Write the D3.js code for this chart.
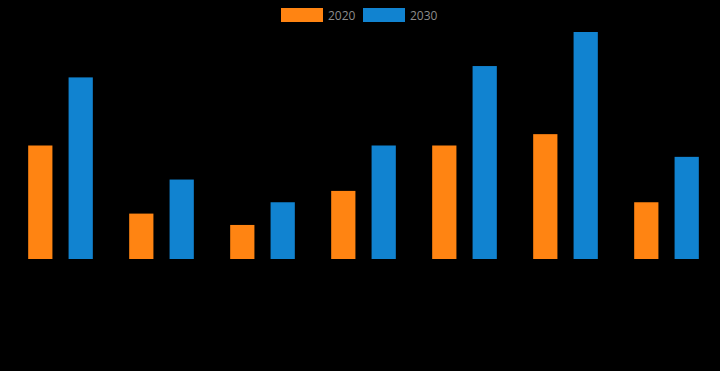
<!doctype html>
<html>
<head>
<script src="https://d3js.org/d3.v7.min.js"></script>
<style>
  body { margin: 0; background: #000; }
  svg { display: block; }
</style>
</head>
<body>
<script>
  // data
  var categories = ["1", "2", "3", "4", "5", "6", "7"];
  var seriesNames = ["2020", "2030"];
  var values2020 = [10, 4, 3, 6, 10, 11, 5];
  var values2030 = [16, 7, 5, 10, 17, 20, 9];
  var colors = ["#ff8412", "#1183d0"];

  var W = 720, H = 371;
  var svg = d3.select("body").append("svg").attr("width", W).attr("height", H);
  svg.append("rect").attr("width", W).attr("height", H).attr("fill", "#000");

  var x0 = d3.scaleBand().domain(categories).range([10, 717]).padding(0);
  var x1 = d3.scaleBand().domain(seriesNames).range([0, x0.bandwidth()])
      .paddingInner(0.4).paddingOuter(0.45);
  var y = d3.scaleLinear().domain([0, 20]).range([259, 32]);

  var rows = categories.map(function (c, i) {
    return { cat: c, vals: [values2020[i], values2030[i]] };
  });

  var g = svg.selectAll(".grp").data(rows).enter().append("g")
      .attr("transform", function (d) { return "translate(" + x0(d.cat) + ",0)"; });

  g.selectAll("rect").data(function (d) {
    return d.vals.map(function (v, j) { return { key: seriesNames[j], v: v, j: j }; });
  }).enter().append("rect")
    .attr("x", function (d) { return x1(d.key); })
    .attr("width", x1.bandwidth())
    .attr("y", function (d) { return y(d.v); })
    .attr("height", function (d) { return y(0) - y(d.v); })
    .attr("fill", function (d) { return colors[d.j]; });

  // legend
  var legend = svg.append("g").attr("font-family", "'Open Sans', sans-serif").attr("font-size", 12);
  var lx = [281, 363];
  seriesNames.forEach(function (name, j) {
    legend.append("rect").attr("x", lx[j]).attr("y", 8).attr("width", 42).attr("height", 14)
      .attr("fill", colors[j]);
    legend.append("text").attr("x", lx[j] + 47).attr("y", 19.5)
      .attr("fill", "#8c8c8c").text(name);
  });
</script>
</body>
</html>
